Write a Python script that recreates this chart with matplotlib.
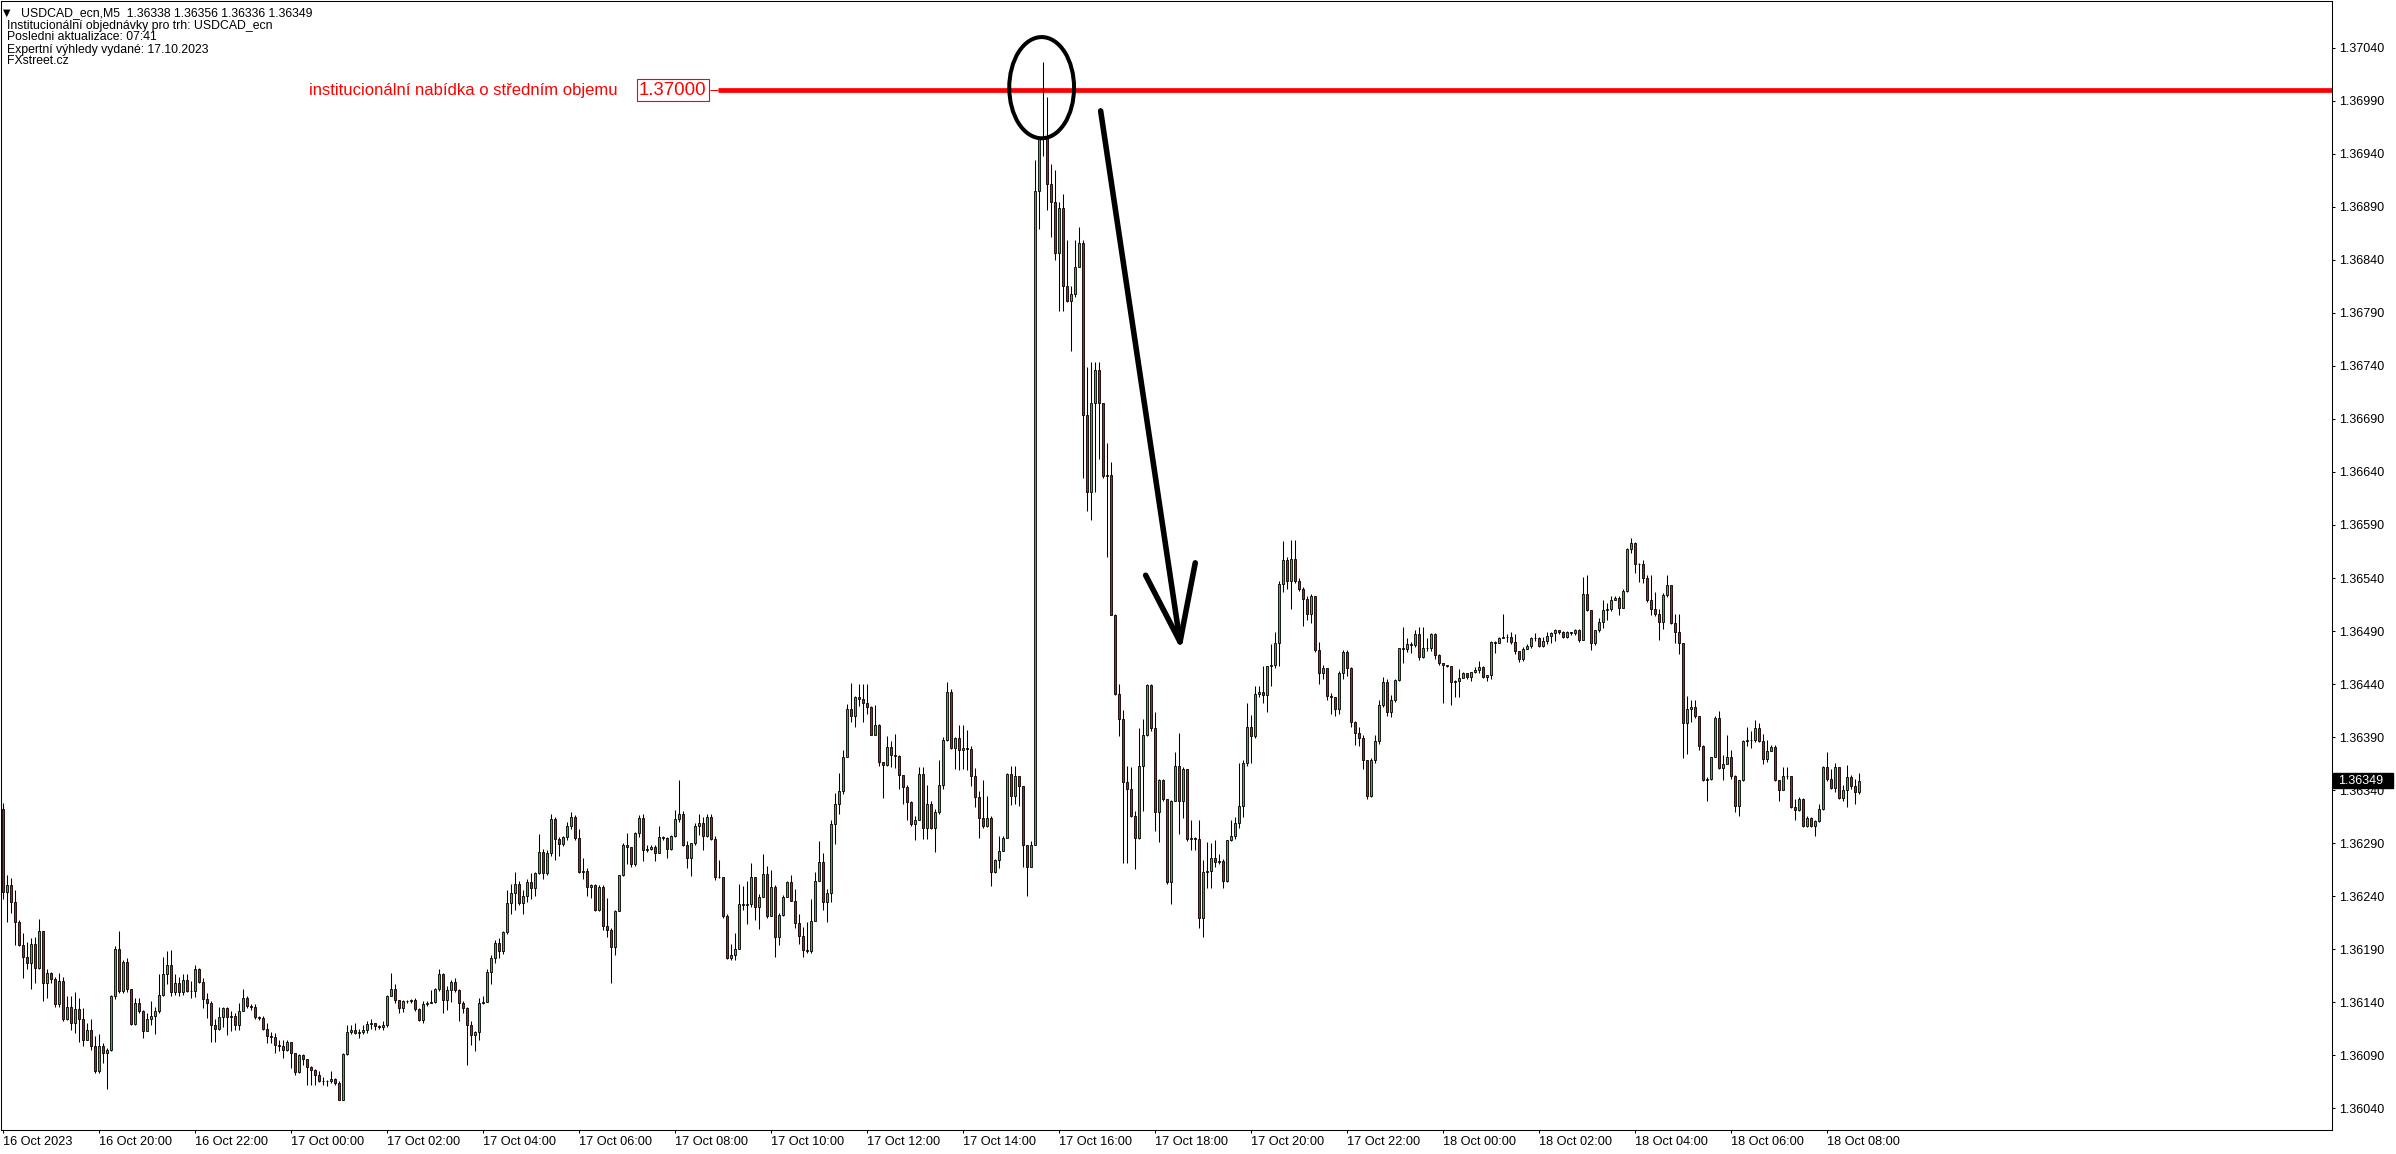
import numpy as np
import matplotlib.pyplot as plt
from matplotlib.patches import Ellipse, Rectangle
from matplotlib.transforms import blended_transform_factory

plt.rcParams['font.family'] = ['Liberation Sans', 'DejaVu Sans']

# USDCAD M5 candles, prices in points (0.00001) above 1.36000
base = 1.36
first_open = 322
close_pts = [
    244, 251, 235, 216, 194, 183, 177, 195, 172, 207,
    158, 168, 162, 138, 160, 124, 136, 121, 134, 124,
    105, 114, 99, 75, 99, 92, 95, 146, 190, 151,
    178, 153, 120, 139, 132, 113, 124, 127, 132, 147,
    167, 175, 150, 158, 150, 161, 151, 151, 171, 159,
    143, 139, 119, 115, 126, 135, 126, 127, 119, 132,
    144, 137, 136, 126, 125, 115, 108, 107, 100, 99,
    95, 103, 92, 74, 90, 87, 79, 76, 72, 66,
    66, 66, 68, 64, 48, 91, 112, 114, 111, 112,
    114, 120, 121, 118, 117, 119, 146, 153, 142, 135,
    141, 141, 142, 134, 123, 138, 139, 140, 153, 167,
    142, 152, 159, 152, 139, 135, 119, 109, 112, 139,
    140, 169, 182, 196, 188, 206, 234, 243, 252, 234,
    240, 253, 248, 262, 282, 262, 281, 313, 294, 289,
    296, 306, 315, 295, 263, 264, 249, 251, 227, 249,
    212, 208, 192, 226, 260, 288, 286, 270, 300, 314,
    284, 285, 286, 281, 296, 295, 285, 297, 313, 318,
    288, 276, 290, 306, 309, 297, 315, 294, 258, 258,
    221, 182, 185, 190, 233, 232, 233, 258, 230, 239,
    261, 221, 249, 202, 222, 239, 253, 236, 215, 203,
    189, 188, 217, 254, 272, 235, 243, 308, 327, 339,
    371, 417, 410, 428, 426, 422, 418, 392, 401, 367,
    364, 381, 373, 372, 354, 343, 329, 308, 312, 355,
    304, 327, 304, 319, 345, 387, 433, 380, 389, 378,
    380, 379, 353, 334, 314, 306, 314, 263, 274, 283,
    295, 355, 335, 353, 344, 288, 268, 288, 905, 954,
    955, 911, 894, 846, 889, 815, 801, 808, 833, 856,
    694, 621, 705, 736, 705, 636, 637, 505, 431, 407,
    348, 341, 316, 295, 363, 392, 439, 399, 319, 350,
    332, 253, 330, 363, 330, 360, 294, 295, 294, 220,
    263, 264, 276, 272, 273, 254, 293, 297, 309, 325,
    366, 400, 391, 431, 433, 430, 457, 458, 479, 534,
    557, 537, 558, 537, 530, 520, 506, 523, 472, 450,
    455, 429, 428, 417, 450, 470, 455, 404, 394, 389,
    368, 335, 368, 386, 420, 442, 414, 425, 444, 474,
    473, 478, 477, 487, 466, 474, 474, 487, 467, 460,
    458, 457, 442, 443, 446, 450, 447, 451, 453, 456,
    447, 449, 480, 479, 483, 484, 484, 480, 471, 464,
    473, 476, 483, 483, 476, 481, 485, 488, 491, 489,
    484, 489, 488, 491, 482, 525, 510, 479, 491, 499,
    510, 511, 519, 521, 512, 528, 567, 573, 553, 553,
    540, 519, 511, 506, 499, 524, 533, 498, 489, 479,
    403, 417, 418, 410, 382, 350, 351, 371, 408, 361,
    365, 371, 353, 325, 350, 386, 387, 387, 399, 386,
    369, 377, 381, 350, 340, 353, 353, 324, 321, 332,
    306, 314, 306, 311, 322, 362, 351, 342, 362, 333,
    340, 352, 344, 338, 349,
]
high_pts = [
    328, 260, 257, 246, 218, 205, 197, 201, 202, 219,
    206, 171, 169, 164, 168, 164, 146, 146, 150, 144,
    135, 121, 124, 108, 110, 102, 97, 147, 193, 207,
    180, 182, 153, 144, 144, 133, 130, 141, 136, 167,
    183, 188, 189, 167, 164, 167, 167, 160, 175, 172,
    163, 149, 141, 124, 136, 136, 136, 132, 130, 139,
    153, 146, 138, 138, 127, 127, 121, 112, 111, 105,
    105, 105, 94, 92, 91, 91, 87, 80, 77, 75,
    70, 67, 75, 69, 66, 92, 119, 119, 121, 115,
    119, 122, 124, 121, 119, 122, 147, 168, 157, 142,
    142, 142, 143, 144, 135, 141, 141, 152, 154, 171,
    168, 155, 161, 163, 153, 141, 136, 122, 113, 144,
    146, 171, 185, 199, 201, 207, 246, 252, 263, 254,
    246, 256, 262, 263, 299, 285, 284, 318, 315, 296,
    297, 310, 319, 317, 303, 276, 267, 252, 252, 251,
    251, 238, 210, 227, 260, 290, 300, 284, 301, 317,
    318, 288, 288, 288, 306, 297, 296, 298, 321, 350,
    320, 292, 290, 309, 318, 315, 318, 318, 297, 274,
    258, 223, 195, 205, 252, 250, 254, 271, 258, 242,
    280, 269, 265, 251, 224, 241, 254, 260, 247, 223,
    211, 216, 237, 263, 292, 281, 247, 312, 337, 356,
    378, 421, 441, 429, 440, 440, 440, 419, 420, 402,
    367, 391, 386, 393, 373, 354, 345, 330, 316, 362,
    362, 345, 330, 322, 368, 390, 442, 435, 390, 401,
    401, 397, 382, 361, 339, 350, 335, 316, 275, 297,
    297, 356, 363, 363, 353, 344, 288, 292, 934, 954,
    1026, 993, 930, 925, 894, 902, 859, 815, 859, 871,
    859, 739, 744, 744, 744, 699, 667, 649, 506, 440,
    416, 363, 362, 320, 399, 407, 440, 440, 414, 351,
    351, 331, 331, 376, 394, 362, 360, 312, 296, 312,
    274, 291, 290, 293, 280, 275, 293, 312, 315, 366,
    368, 422, 411, 438, 438, 457, 457, 478, 489, 537,
    575, 560, 576, 576, 540, 532, 523, 525, 523, 480,
    458, 455, 432, 428, 452, 472, 472, 456, 405, 400,
    392, 368, 370, 392, 425, 447, 445, 430, 445, 474,
    494, 483, 480, 491, 494, 494, 483, 488, 488, 468,
    460, 458, 457, 444, 454, 451, 450, 451, 456, 462,
    457, 449, 481, 481, 484, 506, 487, 489, 487, 471,
    475, 478, 484, 488, 484, 484, 489, 489, 492, 491,
    490, 490, 489, 492, 492, 541, 543, 510, 491, 502,
    519, 516, 523, 523, 523, 530, 568, 578, 574, 554,
    557, 543, 543, 527, 511, 526, 543, 532, 506, 506,
    479, 429, 425, 425, 410, 383, 352, 371, 410, 415,
    373, 392, 378, 354, 350, 387, 400, 396, 406, 403,
    393, 387, 383, 383, 348, 362, 362, 352, 332, 334,
    333, 316, 315, 312, 327, 363, 376, 360, 366, 362,
    345, 364, 354, 351, 356,
]
low_pts = [
    237, 216, 224, 194, 193, 163, 171, 153, 158, 171,
    141, 144, 158, 136, 136, 122, 123, 114, 111, 103,
    99, 105, 95, 73, 73, 83, 58, 94, 143, 149,
    149, 150, 119, 119, 130, 106, 113, 119, 110, 130,
    146, 157, 146, 147, 146, 147, 150, 144, 145, 158,
    135, 125, 103, 103, 114, 117, 109, 113, 114, 114,
    135, 135, 133, 124, 123, 114, 102, 102, 92, 94,
    88, 94, 78, 72, 73, 81, 62, 62, 62, 65,
    62, 61, 64, 62, 48, 48, 90, 110, 110, 106,
    110, 111, 115, 114, 115, 114, 117, 148, 139, 130,
    131, 139, 139, 132, 122, 121, 137, 139, 139, 151,
    130, 133, 140, 150, 122, 130, 81, 100, 94, 105,
    138, 140, 157, 177, 182, 186, 204, 223, 227, 232,
    223, 235, 237, 240, 261, 256, 260, 278, 274, 278,
    287, 293, 303, 293, 262, 256, 240, 238, 226, 226,
    208, 202, 158, 185, 226, 259, 270, 268, 269, 296,
    273, 282, 284, 273, 282, 293, 276, 284, 296, 310,
    287, 267, 259, 288, 298, 284, 296, 293, 255, 257,
    220, 181, 180, 180, 190, 227, 214, 230, 218, 209,
    239, 220, 221, 183, 194, 221, 239, 236, 210, 195,
    183, 187, 187, 217, 255, 227, 216, 235, 289, 318,
    336, 373, 404, 400, 419, 404, 412, 392, 392, 363,
    333, 363, 362, 361, 341, 327, 312, 306, 293, 312,
    294, 294, 303, 282, 318, 341, 386, 379, 360, 359,
    360, 359, 344, 324, 295, 304, 305, 250, 262, 267,
    283, 295, 326, 327, 325, 268, 240, 268, 288, 869,
    938, 887, 861, 840, 792, 792, 800, 754, 805, 833,
    634, 603, 595, 621, 652, 634, 560, 505, 430, 391,
    271, 271, 315, 266, 294, 320, 391, 396, 302, 291,
    330, 252, 233, 330, 299, 314, 292, 284, 284, 210,
    202, 248, 248, 268, 270, 248, 253, 292, 294, 304,
    315, 363, 366, 389, 428, 422, 414, 438, 455, 457,
    527, 530, 511, 535, 528, 495, 500, 498, 470, 440,
    445, 425, 412, 410, 412, 445, 448, 400, 383, 382,
    360, 332, 334, 366, 384, 418, 410, 409, 423, 443,
    460, 470, 469, 475, 463, 465, 471, 471, 464, 458,
    422, 456, 420, 428, 428, 448, 445, 443, 450, 450,
    446, 443, 445, 469, 480, 483, 480, 478, 468, 461,
    462, 473, 474, 481, 475, 475, 478, 479, 481, 487,
    483, 483, 486, 486, 480, 487, 509, 472, 477, 489,
    493, 500, 509, 519, 505, 512, 527, 564, 545, 536,
    535, 517, 505, 504, 482, 492, 522, 497, 479, 468,
    370, 374, 404, 408, 378, 349, 330, 350, 376, 360,
    350, 365, 351, 319, 316, 349, 382, 380, 385, 385,
    365, 367, 377, 349, 330, 340, 351, 323, 312, 320,
    305, 305, 305, 297, 310, 321, 349, 341, 338, 332,
    330, 324, 341, 327, 336,
]

x_labels = ['16 Oct 2023', '16 Oct 20:00', '16 Oct 22:00', '17 Oct 00:00',
            '17 Oct 02:00', '17 Oct 04:00', '17 Oct 06:00', '17 Oct 08:00',
            '17 Oct 10:00', '17 Oct 12:00', '17 Oct 14:00', '17 Oct 16:00',
            '17 Oct 18:00', '17 Oct 20:00', '17 Oct 22:00', '18 Oct 00:00',
            '18 Oct 02:00', '18 Oct 04:00', '18 Oct 06:00', '18 Oct 08:00']
bars_per_label = 24
y_ticks = np.round(np.arange(1.37040, 1.36039, -0.0005), 5)

level = 1.37000
level_text = 'institucionální nabídka o středním objemu'
last_price = 1.36349
header = ['Institucionální objednávky pro trh: USDCAD_ecn',
          'Posledni aktualizace: 07:41',
          'Expertní výhledy vydané: 17.10.2023',
          'FXstreet.cz']
title_line = 'USDCAD_ecn,M5  1.36338 1.36356 1.36336 1.36349'

bull = '#36b836'
bear = '#ff0000'

# --- build OHLC
c = base + np.array(close_pts) * 1e-5
o = base + np.array([first_open] + close_pts[:-1]) * 1e-5
h = np.maximum.reduce([base + np.array(high_pts) * 1e-5, o, c])
l = np.minimum.reduce([base + np.array(low_pts) * 1e-5, o, c])
x = np.arange(len(c))
up = c >= o

W, H = 2396, 1154
fig = plt.figure(figsize=(W / 100, H / 100), dpi=100)
ax = fig.add_axes([1 / W, 1 - 1130 / H, 2331 / W, 1129 / H])

ax.vlines(x, l, h, color='black', lw=0.75, zorder=2)
ax.bar(x[up], (c - o)[up], bottom=o[up], width=0.6, color=bull,
       edgecolor='black', linewidth=0.6, zorder=3)
ax.bar(x[~up], (o - c)[~up], bottom=c[~up], width=0.6, color=bear,
       edgecolor='black', linewidth=0.6, zorder=3)

ax.set_xlim(-0.575, 582.2)
ax.set_ylim(1.360197, 1.370839)

# --- annotation: level line with label
ax.hlines(level, 178.7, 582.2, color='red', lw=3.4, zorder=1)
ax.hlines(level, 176.6, 178.7, color='red', lw=0.8, zorder=1)
ax.text(167.35, level, '1.37000', ha='center', va='center', color='red',
        fontsize=13.4, zorder=6,
        bbox=dict(boxstyle='square,pad=0.12', fc='white', ec='red', lw=0.8))
ax.text(153.7, level, level_text, ha='right', va='center', color='red',
        fontsize=12, zorder=6)

# ellipse round the spike and arrow down
ax.add_patch(Ellipse((259.6, 1.370022), 16.2, 0.000954, fill=False,
                     ec='black', lw=2.9, zorder=5))
ax.plot([274.35, 294.2], [1.369803, 1.364798], color='black', lw=4,
        solid_capstyle='round', zorder=5)
ax.plot([285.6, 294.2, 298.0], [1.365426, 1.364798, 1.365543], color='black',
        lw=4, solid_capstyle='round', solid_joinstyle='round', zorder=5)

# --- axes styling
for s in ax.spines.values():
    s.set_linewidth(0.75)
    s.set_color('black')
ax.yaxis.tick_right()
ax.set_yticks(y_ticks)
ax.set_yticklabels([f'{v:.5f}' for v in y_ticks])
ax.tick_params(axis='y', length=2.2, width=0.75, pad=3, labelsize=9)
ax.set_xticks(np.arange(len(x_labels)) * bars_per_label)
ax.set_xticklabels(x_labels)
ax.tick_params(axis='x', length=2.2, width=0.75, pad=2, labelsize=9.2)
for lab in ax.get_xticklabels():
    lab.set_horizontalalignment('left')

# current price box on the price scale
tr = blended_transform_factory(ax.transAxes, ax.transData)
ax.add_patch(Rectangle((1 + 1 / 2331, last_price - 7.06e-5), 60 / 2331, 14.12e-5,
                       transform=tr, fc='black', ec='black', clip_on=False, zorder=9))
ax.text(1 + 6 / 2331, last_price, f'{last_price:.5f}', transform=tr, ha='left',
        va='center', color='white', fontsize=9, zorder=10, clip_on=False)

# --- header text top left
fig.text(3 / W, 1 - 13 / H, '\u25bc', fontsize=7, va='center', ha='left',
         family=['DejaVu Sans'])
fig.text(21 / W, 1 - 13 / H, title_line, fontsize=8.8, va='center', ha='left')
for k, line in enumerate(header):
    fig.text(7 / W, 1 - (25.5 + 12 * k) / H, line, fontsize=8.8, va='center', ha='left')

fig.savefig('out.png', dpi=100)
